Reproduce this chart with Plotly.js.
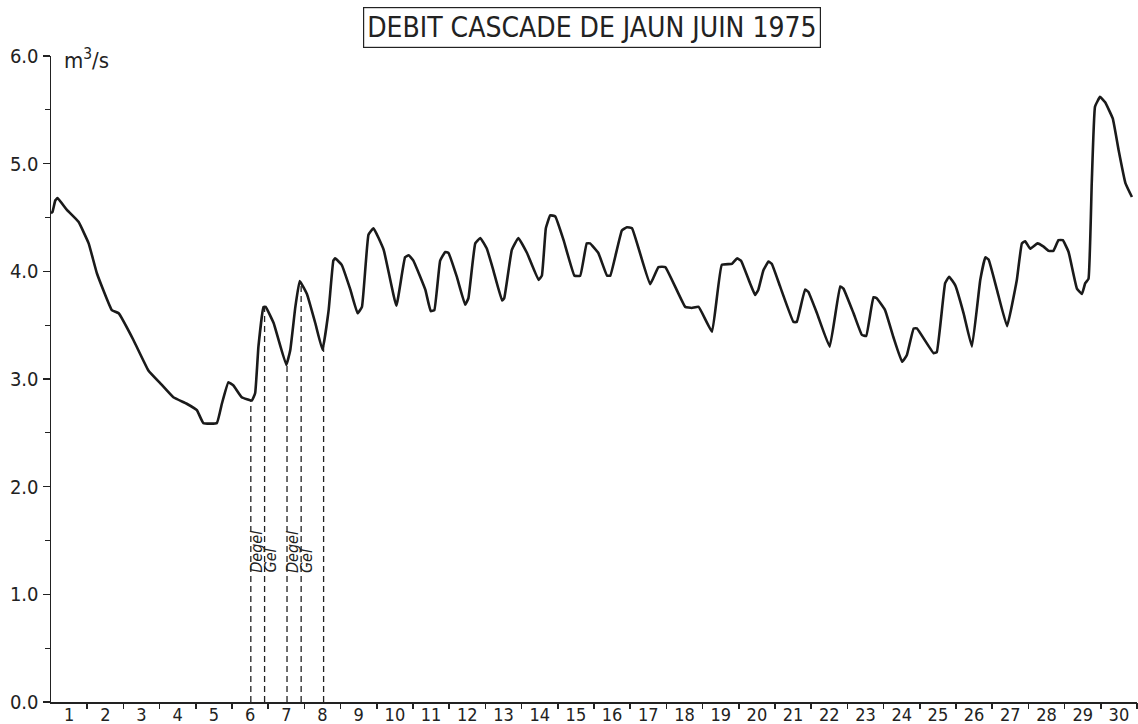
<!DOCTYPE html>
<html>
<head>
<meta charset="utf-8">
<script src="https://cdn.plot.ly/plotly-3.0.1.min.js"></script>
<style>html,body{margin:0;padding:0;background:#fff;}#chart{width:1138px;height:724px;}</style>
</head>
<body>
<div id="chart"></div>
<script>
// Time in days since 1 June 1975 00:00 (day d spans [d-1, d])
const days = [0, 0.04, 0.12, 0.18, 0.44, 0.76, 1.04, 1.27, 1.68, 1.87, 2.28, 2.69, 3.02, 3.38, 3.75, 4.03, 4.21, 4.58, 4.72, 4.90, 5.04, 5.27, 5.55, 5.64, 5.73, 5.87, 5.93, 6.15, 6.50, 6.61, 6.75, 6.87, 7.07, 7.30, 7.50, 7.67, 7.80, 7.85, 8.03, 8.27, 8.47, 8.59, 8.77, 8.91, 9.19, 9.54, 9.78, 9.88, 10.01, 10.34, 10.49, 10.59, 10.75, 10.89, 10.98, 11.21, 11.44, 11.53, 11.72, 11.86, 12.04, 12.22, 12.46, 12.52, 12.73, 12.91, 13.15, 13.47, 13.56, 13.67, 13.79, 13.93, 14.16, 14.46, 14.62, 14.80, 14.89, 15.12, 15.36, 15.45, 15.77, 15.91, 16.05, 16.55, 16.78, 16.97, 17.52, 17.70, 17.89, 18.26, 18.53, 18.81, 18.95, 19.06, 19.31, 19.45, 19.54, 19.68, 19.82, 19.91, 20.14, 20.51, 20.60, 20.83, 20.92, 21.16, 21.51, 21.80, 21.89, 22.17, 22.40, 22.52, 22.72, 22.81, 23.04, 23.27, 23.51, 23.64, 23.83, 23.92, 24.38, 24.47, 24.70, 24.81, 24.98, 25.21, 25.44, 25.67, 25.81, 25.90, 26.13, 26.41, 26.68, 26.82, 26.91, 27.05, 27.25, 27.42, 27.56, 27.69, 27.83, 27.95, 28.11, 28.34, 28.48, 28.57, 28.66, 28.75, 28.84, 28.98, 29.12, 29.33, 29.49, 29.68, 29.86];
// Discharge in m3/s
const flow = [4.54, 4.55, 4.66, 4.68, 4.57, 4.46, 4.26, 3.98, 3.64, 3.61, 3.36, 3.08, 2.96, 2.83, 2.77, 2.71, 2.59, 2.59, 2.77, 2.97, 2.94, 2.83, 2.80, 2.87, 3.30, 3.67, 3.67, 3.52, 3.13, 3.27, 3.67, 3.91, 3.79, 3.52, 3.27, 3.64, 4.10, 4.12, 4.06, 3.83, 3.61, 3.67, 4.34, 4.40, 4.20, 3.68, 4.13, 4.15, 4.10, 3.83, 3.63, 3.64, 4.10, 4.18, 4.17, 3.95, 3.69, 3.75, 4.26, 4.31, 4.21, 4.01, 3.73, 3.75, 4.20, 4.31, 4.17, 3.92, 3.96, 4.40, 4.52, 4.51, 4.29, 3.96, 3.96, 4.26, 4.26, 4.17, 3.96, 3.96, 4.38, 4.41, 4.40, 3.88, 4.04, 4.04, 3.67, 3.66, 3.67, 3.44, 4.06, 4.07, 4.12, 4.10, 3.89, 3.78, 3.83, 4.01, 4.09, 4.07, 3.86, 3.53, 3.53, 3.83, 3.81, 3.61, 3.30, 3.86, 3.84, 3.61, 3.41, 3.40, 3.76, 3.75, 3.64, 3.39, 3.16, 3.22, 3.47, 3.47, 3.24, 3.25, 3.89, 3.95, 3.87, 3.61, 3.30, 3.92, 4.13, 4.11, 3.83, 3.49, 3.92, 4.26, 4.28, 4.21, 4.26, 4.23, 4.19, 4.19, 4.29, 4.29, 4.18, 3.84, 3.79, 3.89, 3.93, 4.82, 5.53, 5.62, 5.57, 5.42, 5.13, 4.82, 4.69];

// Freeze / thaw event times (days) and their labels
const eventTimes = [5.52, 5.90, 6.52, 6.91, 7.53];
const eventLabels = ["Degel", "Gel", "Degel", "Gel", ""];

const dayLabels = [];
for (let d = 1; d <= 30; d++) dayLabels.push(String(d));
const yTickVals = [0, 1, 2, 3, 4, 5, 6];

const titleText = "DEBIT CASCADE DE JAUN JUIN 1975";
const unitText = "m<sup>3</sup>/s";

function interp(x) {
  for (let i = 1; i < days.length; i++) {
    if (x <= days[i]) {
      const t = (x - days[i - 1]) / (days[i] - days[i - 1]);
      return flow[i - 1] + t * (flow[i] - flow[i - 1]);
    }
  }
  return flow[flow.length - 1];
}

const FONT = "'Liberation Sans Narrow', 'DejaVu Sans Condensed', 'Roboto Condensed', 'Liberation Sans', sans-serif";

const evX = [], evY = [];
eventTimes.forEach(t => { evX.push(t, t, null); evY.push(0, interp(t), null); });

const traces = [
  { x: evX, y: evY, mode: "lines", line: { color: "#222", width: 1.3, dash: "6px,4px" }, hoverinfo: "skip", showlegend: false },
  { x: days, y: flow, mode: "lines", line: { color: "#1a1a1a", width: 2.6, shape: "spline", smoothing: 0.3 }, showlegend: false }
];

const annotations = [
  { text: titleText, xref: "paper", yref: "paper", x: 0.4977, y: 1, yshift: 29, xanchor: "center", yanchor: "middle",
    showarrow: false, bordercolor: "#222", borderwidth: 1.2, borderpad: 3,
    font: { family: FONT, size: 28, color: "#222" } },
  { text: unitText, xref: "paper", yref: "y", x: 0.010, y: 6, yshift: -3, xanchor: "left", yanchor: "middle", showarrow: false,
    font: { family: FONT, size: 22, color: "#222" } }
];
eventLabels.forEach((lab, i) => {
  if (!lab) return;
  annotations.push({ text: lab, x: eventTimes[i], xshift: 6, y: 1.18, xref: "x", yref: "y", textangle: -90,
    showarrow: false, xanchor: "center", yanchor: "bottom",
    font: { family: FONT, size: 16, style: "italic", color: "#222" } });
});

const halfVals = dayLabels.map((_, i) => i + 0.5);
const intVals = dayLabels.map((_, i) => i + 1);

const layout = {
  width: 1138, height: 724,
  margin: { l: 51, r: 1, t: 56, b: 22 },
  paper_bgcolor: "#fff", plot_bgcolor: "#fff",
  showlegend: false,
  xaxis: {
    range: [0, 30], showgrid: false, zeroline: false,
    showline: true, linecolor: "#222", linewidth: 1.5,
    tickvals: halfVals, ticktext: dayLabels, ticks: "", ticklabelstandoff: -4,
    tickfont: { family: FONT, size: 18, color: "#222" }
  },
  xaxis2: {
    overlaying: "x", matches: "x", anchor: "y", side: "bottom", range: [0, 30],
    showgrid: false, zeroline: false, showline: false,
    tickvals: intVals, ticks: "outside", ticklen: 6, tickwidth: 1.5, tickcolor: "#222",
    showticklabels: false
  },
  yaxis: {
    range: [0, 6], showgrid: false, zeroline: false,
    showline: true, linecolor: "#222", linewidth: 1.5,
    tickvals: yTickVals, tickformat: ".1f", ticks: "outside", ticklen: 7, tickwidth: 1.5, tickcolor: "#222",
    minor: { dtick: 0.5, ticks: "outside", ticklen: 5, tickwidth: 1.2, tickcolor: "#222", showgrid: false },
    tickfont: { family: FONT, size: 20, color: "#222" }
  },
  annotations: annotations
};
traces.push({ x: [0, 30], y: [null, null], xaxis: "x2", yaxis: "y", mode: "lines", showlegend: false, hoverinfo: "skip" });

Plotly.newPlot("chart", traces, layout, { staticPlot: true, displayModeBar: false });
</script>
</body>
</html>
